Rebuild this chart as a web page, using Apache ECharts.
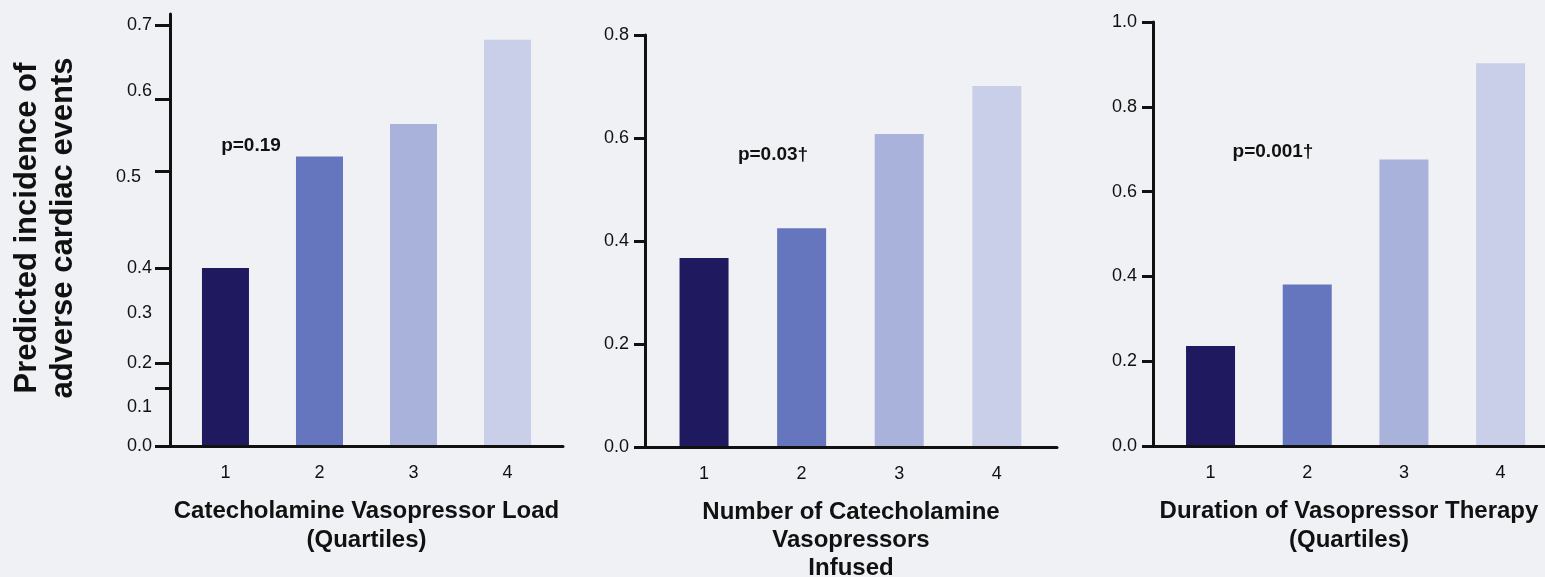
<!DOCTYPE html>
<html><head><meta charset="utf-8">
<script src="https://cdn.jsdelivr.net/npm/echarts@6/dist/echarts.min.js"></script>
<style>html,body{margin:0;padding:0;background:#f0f1f5;} #c{width:1545px;height:577px;}</style>
</head><body><div id="c"></div>
<script>
const categories = ['1', '2', '3', '4'];
const loadValues = [0.40, 0.52, 0.565, 0.68];
const numberValues = [0.367, 0.425, 0.608, 0.701];
const durationValues = [0.236, 0.381, 0.676, 0.903];
const loadTickLabels = ['0.0', '0.1', '0.2', '0.3', '0.4', '0.5', '0.6', '0.7'];
const numberTickLabels = ['0.0', '0.2', '0.4', '0.6', '0.8'];
const durationTickLabels = ['0.0', '0.2', '0.4', '0.6', '0.8', '1.0'];
const pLabels = ['p=0.19', 'p=0.03\u2020', 'p=0.001\u2020'];
const xTitles = [
  'Catecholamine Vasopressor Load\n(Quartiles)',
  'Number of Catecholamine\nVasopressors\nInfused',
  'Duration of Vasopressor Therapy\n(Quartiles)'
];
const yTitle = 'Predicted incidence of\nadverse cardiac events';
const barColors = ['#1f1a5f', '#6676be', '#a8b2db', '#c9cfe9'];

// Panel 1 is printed with an irregular axis: where each printed value sits on the drawn (linear) axis
const loadAnchorValues = [0, 0.2, 0.4, 0.5, 0.6, 0.7];
const loadAnchorLevels = [0, 0.138, 0.296, 0.457, 0.577, 0.70];
const loadLabelLevels = [0, 0.065, 0.138, 0.221, 0.296, 0.447, 0.590, 0.70];
const loadTickLevels = [0, 0.0964, 0.138, 0.296, 0.457, 0.577, 0.70];

function toLoadLevel(v) {
  for (let i = 1; i < loadAnchorValues.length; i++) {
    if (v <= loadAnchorValues[i]) {
      const a = loadAnchorValues[i - 1], b = loadAnchorValues[i];
      const la = loadAnchorLevels[i - 1], lb = loadAnchorLevels[i];
      return la + (v - a) / (b - a) * (lb - la);
    }
  }
  return loadAnchorLevels[loadAnchorLevels.length - 1];
}

const FONT = '"Liberation Sans", Arial, Helvetica, sans-serif';
const INK = '#111';
const catPos = categories.map((c, i) => i + 1);

const grids = [
  { left: 170, top: 14, width: 393, height: 432, outerBoundsMode: 'none', containLabel: false },
  { left: 645, top: 35, width: 412, height: 412, outerBoundsMode: 'none', containLabel: false },
  { left: 1153, top: 22, width: 392, height: 424, outerBoundsMode: 'none', containLabel: false }
];
const xRanges = [[0.41, 4.59], [0.395, 4.617], [0.405, 4.459]];
const barWidths = [47, 49, 49];
const nameGaps = [51, 51, 51];
const lineHeights = [29, 28, 29];

const xAxes = grids.map((g, k) => ({
  type: 'value', gridIndex: k, min: xRanges[k][0], max: xRanges[k][1],
  z: 10,
  axisLine: { show: true, onZero: false, lineStyle: { color: INK, width: 3 } },
  axisTick: { show: false },
  splitLine: { show: false },
  axisLabel: {
    customValues: catPos,
    formatter: v => categories[Math.round(v) - 1],
    fontFamily: FONT, fontSize: 18, color: INK, margin: 18
  },
  name: xTitles[k], nameLocation: 'middle', nameGap: nameGaps[k],
  nameTextStyle: { fontFamily: FONT, fontSize: 24, fontWeight: 'bold', color: INK, lineHeight: lineHeights[k] }
}));

const yCommon = {
  type: 'value',
  z: 10,
  axisLine: { show: true, lineStyle: { color: INK, width: 3 } },
  axisTick: { show: true, length: 11, lineStyle: { color: INK, width: 3 } },
  splitLine: { show: false },
  axisLabel: { fontFamily: FONT, fontSize: 18, color: INK, margin: 16 }
};

const yAxes = [
  Object.assign({}, yCommon, {
    gridIndex: 0, min: 0, max: 0.718,
    axisTick: { show: true, length: 15, customValues: loadTickLevels, lineStyle: { color: INK, width: 3 } },
    axisLabel: {
      customValues: loadLabelLevels,
      formatter: v => {
        let best = 0;
        loadLabelLevels.forEach((l, i) => { if (Math.abs(l - v) < Math.abs(loadLabelLevels[best] - v)) best = i; });
        return best === 5 ? '{off|' + loadTickLabels[best] + '}' : loadTickLabels[best];
      },
      rich: { off: { fontFamily: FONT, fontSize: 18, color: INK, padding: [0, 11, 0, 0] } },
      fontFamily: FONT, fontSize: 18, color: INK, margin: 18
    }
  }),
  Object.assign({}, yCommon, {
    gridIndex: 1, min: 0, max: 0.8, interval: 0.2,
    axisLabel: Object.assign({}, yCommon.axisLabel, { formatter: v => numberTickLabels[Math.round(v / 0.2)] })
  }),
  Object.assign({}, yCommon, {
    gridIndex: 2, min: 0, max: 1.0, interval: 0.2,
    axisLabel: Object.assign({}, yCommon.axisLabel, { formatter: v => durationTickLabels[Math.round(v / 0.2)] })
  })
];

const panelValues = [loadValues.map(toLoadLevel), numberValues, durationValues];
const series = panelValues.map((vals, k) => ({
  type: 'bar', xAxisIndex: k, yAxisIndex: k,
  barWidth: barWidths[k],
  data: vals.map((v, i) => ({ value: [catPos[i], v], itemStyle: { color: barColors[i] } })),
  z: 2
}));

const pPos = [[251, 146], [773, 155], [1273, 152]];
const graphic = [
  {
    type: 'text', x: 45, y: 228, rotation: Math.PI / 2,
    style: { text: yTitle, fontFamily: FONT, fontSize: 31, fontWeight: 'bold', fill: INK,
      align: 'center', verticalAlign: 'middle', lineHeight: 36 }
  }
].concat(pLabels.map((t, k) => ({
  type: 'text', x: pPos[k][0], y: pPos[k][1],
  style: { text: t, fontFamily: FONT, fontSize: 19, fontWeight: 'bold', fill: INK, align: 'center', verticalAlign: 'middle' }
})));

const chart = echarts.init(document.getElementById('c'), null, { renderer: 'canvas' });
chart.setOption({
  backgroundColor: '#f0f1f5',
  animation: false,
  grid: grids,
  xAxis: xAxes,
  yAxis: yAxes,
  series: series,
  graphic: graphic
});
</script></body></html>
